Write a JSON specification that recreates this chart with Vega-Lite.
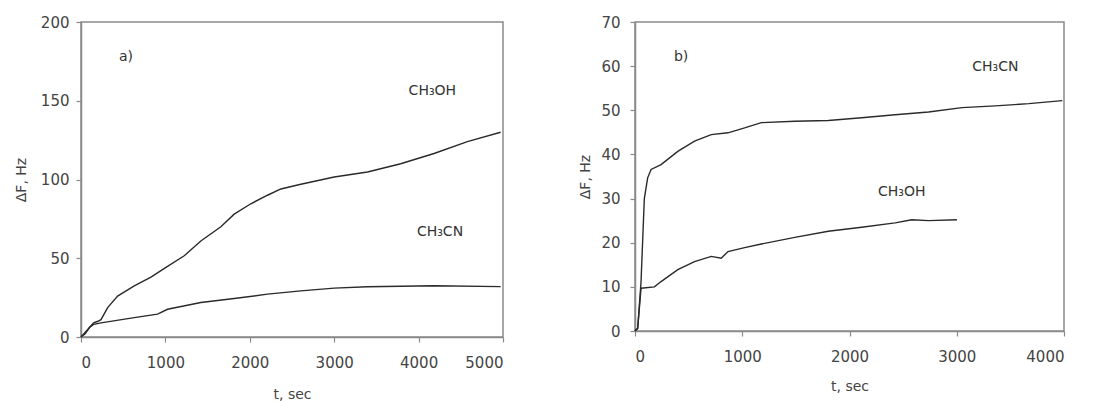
{
  "$schema": "https://vega.github.io/schema/vega-lite/v6.json",
  "background": "white",
  "padding": {"left": 13, "top": 14, "right": 5, "bottom": 2},
  "spacing": 73,
  "config": {
    "view": {"stroke": "#8a8a8a", "strokeWidth": 1.5},
    "font": "DejaVu Sans",
    "axis": {
      "grid": false,
      "domainColor": "#8a8a8a",
      "domainWidth": 1.5,
      "tickColor": "#8a8a8a",
      "tickWidth": 1.2,
      "tickSize": 5,
      "format": "d",
      "labelFont": "DejaVu Sans",
      "labelFontSize": 15,
      "labelColor": "#444",
      "titleFont": "DejaVu Sans",
      "titleFontSize": 14,
      "titleFontWeight": "normal",
      "titleColor": "#444"
    }
  },
  "datasets": {
    "a": [
      {"series": "CH3OH", "t": 0, "df": 0},
      {"series": "CH3OH", "t": 50, "df": 2},
      {"series": "CH3OH", "t": 100, "df": 6},
      {"series": "CH3OH", "t": 150, "df": 9},
      {"series": "CH3OH", "t": 200, "df": 10},
      {"series": "CH3OH", "t": 237, "df": 11},
      {"series": "CH3OH", "t": 316, "df": 18.7},
      {"series": "CH3OH", "t": 434, "df": 26},
      {"series": "CH3OH", "t": 631, "df": 32.5},
      {"series": "CH3OH", "t": 829, "df": 38},
      {"series": "CH3OH", "t": 1002, "df": 44},
      {"series": "CH3OH", "t": 1223, "df": 51.6},
      {"series": "CH3OH", "t": 1420, "df": 61},
      {"series": "CH3OH", "t": 1657, "df": 70},
      {"series": "CH3OH", "t": 1815, "df": 78},
      {"series": "CH3OH", "t": 2012, "df": 84.6},
      {"series": "CH3OH", "t": 2210, "df": 90},
      {"series": "CH3OH", "t": 2368, "df": 94},
      {"series": "CH3OH", "t": 2605, "df": 97},
      {"series": "CH3OH", "t": 3000, "df": 101.6},
      {"series": "CH3OH", "t": 3394, "df": 104.8},
      {"series": "CH3OH", "t": 3788, "df": 110},
      {"series": "CH3OH", "t": 4183, "df": 116.5},
      {"series": "CH3OH", "t": 4578, "df": 124},
      {"series": "CH3OH", "t": 4972, "df": 130},
      {"series": "CH3CN", "t": 0, "df": 0},
      {"series": "CH3CN", "t": 100, "df": 6},
      {"series": "CH3CN", "t": 150, "df": 8},
      {"series": "CH3CN", "t": 237, "df": 9},
      {"series": "CH3CN", "t": 631, "df": 12.3},
      {"series": "CH3CN", "t": 907, "df": 14.5},
      {"series": "CH3CN", "t": 1026, "df": 17.6},
      {"series": "CH3CN", "t": 1420, "df": 21.9},
      {"series": "CH3CN", "t": 1815, "df": 24.4},
      {"series": "CH3CN", "t": 2210, "df": 27.2},
      {"series": "CH3CN", "t": 2605, "df": 29.3},
      {"series": "CH3CN", "t": 3000, "df": 31},
      {"series": "CH3CN", "t": 3394, "df": 31.9},
      {"series": "CH3CN", "t": 4183, "df": 32.5},
      {"series": "CH3CN", "t": 4972, "df": 32}
    ],
    "aLabels": [
      {"t": 533, "df": 178, "label": "a)"},
      {"t": 4163, "df": 156, "label": "CH₃OH"},
      {"t": 4254, "df": 66.5, "label": "CH₃CN"}
    ],
    "b": [
      {"series": "CH3CN", "t": 0, "df": 0},
      {"series": "CH3CN", "t": 25, "df": 0.6},
      {"series": "CH3CN", "t": 56, "df": 11},
      {"series": "CH3CN", "t": 87, "df": 30},
      {"series": "CH3CN", "t": 118, "df": 34.7},
      {"series": "CH3CN", "t": 150, "df": 36.6},
      {"series": "CH3CN", "t": 243, "df": 37.7},
      {"series": "CH3CN", "t": 399, "df": 40.7},
      {"series": "CH3CN", "t": 555, "df": 43},
      {"series": "CH3CN", "t": 711, "df": 44.5},
      {"series": "CH3CN", "t": 867, "df": 44.9},
      {"series": "CH3CN", "t": 1022, "df": 46},
      {"series": "CH3CN", "t": 1178, "df": 47.2},
      {"series": "CH3CN", "t": 1490, "df": 47.5},
      {"series": "CH3CN", "t": 1802, "df": 47.7},
      {"series": "CH3CN", "t": 2113, "df": 48.3},
      {"series": "CH3CN", "t": 2425, "df": 49},
      {"series": "CH3CN", "t": 2737, "df": 49.6},
      {"series": "CH3CN", "t": 3049, "df": 50.6},
      {"series": "CH3CN", "t": 3360, "df": 51},
      {"series": "CH3CN", "t": 3672, "df": 51.5},
      {"series": "CH3CN", "t": 3984, "df": 52.2},
      {"series": "CH3OH", "t": 0, "df": 0},
      {"series": "CH3OH", "t": 25, "df": 0.6},
      {"series": "CH3OH", "t": 56, "df": 9.7},
      {"series": "CH3OH", "t": 181, "df": 10},
      {"series": "CH3OH", "t": 243, "df": 11.2},
      {"series": "CH3OH", "t": 399, "df": 13.9},
      {"series": "CH3OH", "t": 555, "df": 15.7},
      {"series": "CH3OH", "t": 711, "df": 16.9},
      {"series": "CH3OH", "t": 804, "df": 16.5},
      {"series": "CH3OH", "t": 867, "df": 18},
      {"series": "CH3OH", "t": 1022, "df": 18.9},
      {"series": "CH3OH", "t": 1178, "df": 19.7},
      {"series": "CH3OH", "t": 1490, "df": 21.2},
      {"series": "CH3OH", "t": 1802, "df": 22.6},
      {"series": "CH3OH", "t": 2113, "df": 23.5},
      {"series": "CH3OH", "t": 2425, "df": 24.5},
      {"series": "CH3OH", "t": 2581, "df": 25.2},
      {"series": "CH3OH", "t": 2737, "df": 25},
      {"series": "CH3OH", "t": 3002, "df": 25.2}
    ],
    "bLabels": [
      {"t": 430, "df": 62, "label": "b)"},
      {"t": 3360, "df": 59.7, "label": "CH₃CN"},
      {"t": 2487, "df": 31.6, "label": "CH₃OH"}
    ]
  },
  "hconcat": [
    {
      "width": 422,
      "height": 315,
      "layer": [
        {
          "data": {"name": "a"},
          "mark": {"type": "line", "color": "#2a2a2a", "strokeWidth": 1.4},
          "encoding": {
            "x": {"field": "t", "type": "quantitative", "scale": {"domain": [0, 5000], "nice": false},
              "axis": {"values": [0, 1000, 2000, 3000, 4000, 5000], "title": "t, sec", "labelPadding": 13, "titlePadding": 17}},
            "y": {"field": "df", "type": "quantitative", "scale": {"domain": [0, 200], "nice": false},
              "axis": {"values": [0, 50, 100, 150, 200], "title": "ΔF, Hz", "labelPadding": 7, "titlePadding": 12}},
            "detail": {"field": "series"}
          }
        },
        {
          "data": {"name": "aLabels"},
          "mark": {"type": "text", "fontSize": 14, "color": "#333", "font": "DejaVu Sans"},
          "encoding": {
            "x": {"field": "t", "type": "quantitative"},
            "y": {"field": "df", "type": "quantitative"},
            "text": {"field": "label"}
          }
        }
      ]
    },
    {
      "width": 429,
      "height": 309,
      "layer": [
        {
          "data": {"name": "b"},
          "mark": {"type": "line", "color": "#2a2a2a", "strokeWidth": 1.4},
          "encoding": {
            "x": {"field": "t", "type": "quantitative", "scale": {"domain": [0, 4000], "nice": false},
              "axis": {"values": [0, 1000, 2000, 3000, 4000], "title": "t, sec", "labelPadding": 13, "titlePadding": 15}},
            "y": {"field": "df", "type": "quantitative", "scale": {"domain": [0, 70], "nice": false},
              "axis": {"values": [0, 10, 20, 30, 40, 50, 60, 70], "title": "ΔF, Hz", "labelPadding": 10, "titlePadding": 8}},
            "detail": {"field": "series"}
          }
        },
        {
          "data": {"name": "bLabels"},
          "mark": {"type": "text", "fontSize": 14, "color": "#333", "font": "DejaVu Sans"},
          "encoding": {
            "x": {"field": "t", "type": "quantitative"},
            "y": {"field": "df", "type": "quantitative"},
            "text": {"field": "label"}
          }
        }
      ]
    }
  ]
}
